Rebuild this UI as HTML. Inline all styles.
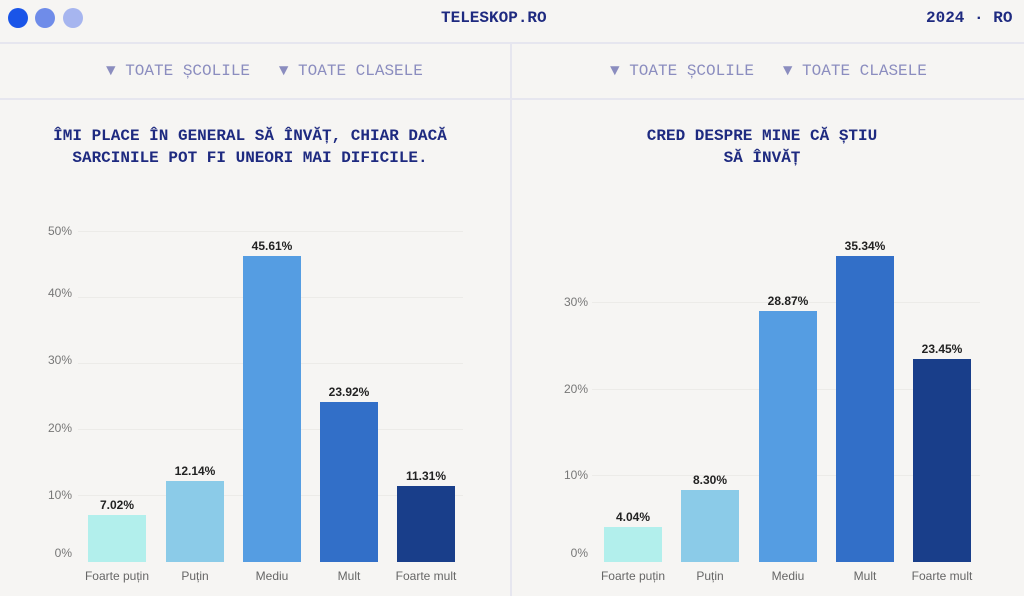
<!DOCTYPE html><html><head><meta charset="utf-8"><style>
*{margin:0;padding:0;box-sizing:border-box}
body{width:1024px;height:596px;background:#f6f5f3;position:relative;overflow:hidden;font-family:"Liberation Sans",sans-serif}
.a{position:absolute}
.m{font-family:"Liberation Mono",monospace}
.dot{width:20px;height:20px;border-radius:50%;top:8px}
.hl{height:2px;background:#e6e6ef;left:0;width:1024px}
.f{color:#8b8dbf;font-size:16px;top:62px;white-space:pre}
.t{color:#1e2a80;font-size:16px;font-weight:bold;text-align:center;line-height:22px;width:500px}
.g{height:1px;background:#ecebe8}
.yl{color:#777;font-size:12px;text-align:right;width:40px}
.b{width:58px}
.v{color:#222;font-size:12px;font-weight:bold;width:80px;text-align:center}
.c{color:#666;font-size:12px;width:90px;text-align:center;top:569px}
</style></head><body>
<div class="a dot" style="left:8px;background:#1a55e8"></div>
<div class="a dot" style="left:35px;background:#6f8ce9"></div>
<div class="a dot" style="left:63px;background:#a6b5ef"></div>
<div class="a m" style="left:441px;top:9px;font-size:16px;font-weight:bold;color:#1e2a80">TELESKOP.RO</div>
<div class="a m" style="left:926px;top:9px;font-size:16px;font-weight:bold;color:#1e2a80">2024 · RO</div>
<div class="a hl" style="top:42px"></div>
<div class="a hl" style="top:98px"></div>
<div class="a" style="left:510px;top:43px;width:2px;height:553px;background:#e6e6ef"></div>
<div class="a m f" style="left:106px">▼ TOATE ȘCOLILE   ▼ TOATE CLASELE</div>
<div class="a m f" style="left:610px">▼ TOATE ȘCOLILE   ▼ TOATE CLASELE</div>
<div class="a m t" style="left:0;top:125px">ÎMI PLACE ÎN GENERAL SĂ ÎNVĂȚ, CHIAR DACĂ<br>SARCINILE POT FI UNEORI MAI DIFICILE.</div>
<div class="a m t" style="left:512px;top:125px">CRED DESPRE MINE CĂ ȘTIU<br>SĂ ÎNVĂȚ</div>

<div class="a g" style="left:78px;width:385px;top:495px"></div>
<div class="a g" style="left:78px;width:385px;top:429px"></div>
<div class="a g" style="left:78px;width:385px;top:363px"></div>
<div class="a g" style="left:78px;width:385px;top:297px"></div>
<div class="a g" style="left:78px;width:385px;top:231px"></div>
<div class="a yl" style="left:32px;top:546px">0%</div>
<div class="a yl" style="left:32px;top:488px">10%</div>
<div class="a yl" style="left:32px;top:421px">20%</div>
<div class="a yl" style="left:32px;top:353px">30%</div>
<div class="a yl" style="left:32px;top:286px">40%</div>
<div class="a yl" style="left:32px;top:224px">50%</div>
<div class="a b" style="left:88px;top:515px;height:47px;background:#b2efec"></div>
<div class="a b" style="left:166px;top:481px;height:81px;background:#8bcbe8"></div>
<div class="a b" style="left:243px;top:256px;height:306px;background:#559de2"></div>
<div class="a b" style="left:320px;top:402px;height:160px;background:#326fc8"></div>
<div class="a b" style="left:397px;top:486px;height:76px;background:#193e8a"></div>
<div class="a v" style="left:77px;top:498px">7.02%</div>
<div class="a v" style="left:155px;top:464px">12.14%</div>
<div class="a v" style="left:232px;top:239px">45.61%</div>
<div class="a v" style="left:309px;top:385px">23.92%</div>
<div class="a v" style="left:386px;top:469px">11.31%</div>
<div class="a c" style="left:72px">Foarte puțin</div>
<div class="a c" style="left:150px">Puțin</div>
<div class="a c" style="left:227px">Mediu</div>
<div class="a c" style="left:304px">Mult</div>
<div class="a c" style="left:381px">Foarte mult</div>

<div class="a g" style="left:592px;width:388px;top:475px"></div>
<div class="a g" style="left:592px;width:388px;top:389px"></div>
<div class="a g" style="left:592px;width:388px;top:302px"></div>
<div class="a yl" style="left:548px;top:546px">0%</div>
<div class="a yl" style="left:548px;top:468px">10%</div>
<div class="a yl" style="left:548px;top:382px">20%</div>
<div class="a yl" style="left:548px;top:295px">30%</div>
<div class="a b" style="left:604px;top:527px;height:35px;background:#b2efec"></div>
<div class="a b" style="left:681px;top:490px;height:72px;background:#8bcbe8"></div>
<div class="a b" style="left:759px;top:311px;height:251px;background:#559de2"></div>
<div class="a b" style="left:836px;top:256px;height:306px;background:#326fc8"></div>
<div class="a b" style="left:913px;top:359px;height:203px;background:#193e8a"></div>
<div class="a v" style="left:593px;top:510px">4.04%</div>
<div class="a v" style="left:670px;top:473px">8.30%</div>
<div class="a v" style="left:748px;top:294px">28.87%</div>
<div class="a v" style="left:825px;top:239px">35.34%</div>
<div class="a v" style="left:902px;top:342px">23.45%</div>
<div class="a c" style="left:588px">Foarte puțin</div>
<div class="a c" style="left:665px">Puțin</div>
<div class="a c" style="left:743px">Mediu</div>
<div class="a c" style="left:820px">Mult</div>
<div class="a c" style="left:897px">Foarte mult</div>
</body></html>
